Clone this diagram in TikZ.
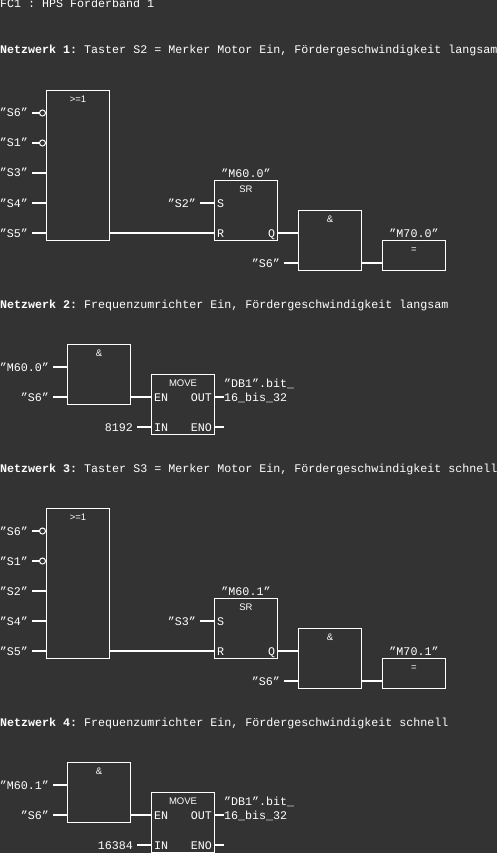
\documentclass[tikz,border=0pt]{standalone}
\usepackage{fontspec}
\setmainfont{Liberation Mono}
\newfontfamily\headfont{Liberation Sans}
\usetikzlibrary{positioning}
\definecolor{cback}{HTML}{333333}
\frenchspacing
\tikzset{
  every picture/.style={x=1pt, y=-1pt},
  every node/.style={font=\fontsize{11.67}{14}\selectfont, text=white},
  box/.style={draw=white, line width=1pt, anchor=north west, minimum width=63pt, minimum height=#1, inner sep=0pt, outer sep=0pt},
  head/.style={font=\headfont\fontsize{9.5}{11}\selectfont, inner sep=0pt, text height=7pt, text depth=0pt, below=5pt of #1},
  wire/.style={draw=white, line width=2pt},
  neg/.style={circle, draw=white, fill=cback, line width=1pt, minimum size=6pt, inner sep=0pt, outer sep=0pt},
  lbl/.style={inner ysep=0pt, inner xsep=4pt, outer sep=0pt, text height=8pt, text depth=0pt},
  pin/.style={lbl, inner xsep=2.5pt},
  title/.style={anchor=base west, inner sep=0pt},
  mem/.style={lbl, inner xsep=0pt, above=3pt of #1},
}

\begin{document}
\begin{tikzpicture}
  \path[use as bounding box, fill=cback] (0,0) rectangle (497,853);
  \node[title] (fc) at (0,8) {FC1 : HPS Förderband 1};
  % Netzwerk 1 and 3
  \foreach \n/\yo/\nr/\mid/\sin/\mema/\memb/\txt in {
    a/0/1/S3/S2/M60.0/M70.0/{Taster S2 = Merker Motor Ein, Fördergeschwindigkeit langsam},
    c/418/3/S2/S3/M60.1/M70.1/{Taster S3 = Merker Motor Ein, Fördergeschwindigkeit schnell}} {
    \begin{scope}[shift={(0,\yo)}]
      \node[title] (net\n) at (0,54) {\textbf{Netzwerk \nr:} \txt};
      \node[box=150pt] (or\n) at (46.5,90.5) {};
      \node[head=or\n.north] (orh\n) {>=1};
      \foreach \k/\t/\py in {p/S6/113, q/S1/143} {
        \node[lbl, anchor=east] (in\n\k) at (32,\py) {"\t"};
        \node[neg] (neg\n\k) at (42.5,\py) {};
        \draw[wire] (in\n\k.east) -- (neg\n\k.west);
      }
      \foreach \k/\t/\py in {r/\mid/173, s/S4/203, t/S5/233} {
        \node[lbl, anchor=east] (in\n\k) at (32,\py) {"\t"};
        \draw[wire] (in\n\k.east) -- (in\n\k.east -| or\n.west);
      }
      \node[box=60pt] (sr\n) at (214.5,180.5) {};
      \node[head=sr\n.north] (srh\n) {SR};
      \node[mem=sr\n.north] (mema\n) {"\mema"};
      \node[pin, anchor=west] (srs\n) at (sr\n.west |- 0,203) {S};
      \node[pin, anchor=west] (srr\n) at (sr\n.west |- 0,233) {R};
      \node[pin, anchor=east] (srq\n) at (sr\n.east |- 0,233) {Q};
      \node[lbl, anchor=east] (ins\n) at (200,203) {"\sin"};
      \draw[wire] (ins\n.east) -- (srs\n.west);
      \draw[wire] (or\n.east |- srr\n.west) -- (srr\n.west);
      \node[box=60pt] (and\n) at (298.5,210.5) {};
      \node[head=and\n.north] (andh\n) {\&};
      \node[lbl, anchor=east] (inb\n) at (284,263) {"S6"};
      \draw[wire] (srq\n.east) -- (srq\n.east -| and\n.west);
      \draw[wire] (inb\n.east) -- (inb\n.east -| and\n.west);
      \node[box=30pt] (coil\n) at (382.5,240.5) {};
      \node[head=coil\n.north] (coilh\n) {=};
      \node[mem=coil\n.north] (memb\n) {"\memb"};
      \draw[wire] (inb\n.east -| and\n.east) -- (inb\n.east -| coil\n.west);
    \end{scope}
  }
  % Netzwerk 2 and 4
  \foreach \n/\yo/\nr/\mema/\val/\txt in {
    b/0/2/M60.0/8192/{Frequenzumrichter Ein, Fördergeschwindigkeit langsam},
    d/418/4/M60.1/16384/{Frequenzumrichter Ein, Fördergeschwindigkeit schnell}} {
    \begin{scope}[shift={(0,\yo)}]
      \node[title] (net\n) at (0,308) {\textbf{Netzwerk \nr:} \txt};
      \node[box=60pt] (and\n) at (67.5,344.5) {};
      \node[head=and\n.north] (andh\n) {\&};
      \node[lbl, anchor=east] (ina\n) at (53,367) {"\mema"};
      \node[lbl, anchor=east] (inb\n) at (53,397) {"S6"};
      \draw[wire] (ina\n.east) -- (ina\n.east -| and\n.west);
      \draw[wire] (inb\n.east) -- (inb\n.east -| and\n.west);
      \node[box=60pt] (move\n) at (151.5,374.5) {};
      \node[head=move\n.north] (moveh\n) {MOVE};
      \node[pin, anchor=west] (en\n) at (move\n.west |- 0,397) {EN};
      \node[pin, anchor=west] (pin\n) at (move\n.west |- 0,427) {IN};
      \node[pin, anchor=east] (out\n) at (move\n.east |- 0,397) {OUT};
      \node[pin, anchor=east] (eno\n) at (move\n.east |- 0,427) {ENO};
      \draw[wire] (and\n.east |- en\n.west) -- (en\n.west);
      \node[lbl, anchor=east] (val\n) at (137,427) {\val};
      \draw[wire] (val\n.east) -- (pin\n.west);
      \node[title] (db\n) at (224,387) {"DB1".bit\_};
      \node[lbl, anchor=west, inner xsep=0pt] (bit\n) at (224,397) {16\_bis\_32};
      \draw[wire] (move\n.east |- bit\n.west) -- (bit\n.west);
      \coordinate (end\n) at (224,427);
      \draw[wire] (move\n.east |- end\n) -- (end\n);
    \end{scope}
  }
\end{tikzpicture}
\end{document}
